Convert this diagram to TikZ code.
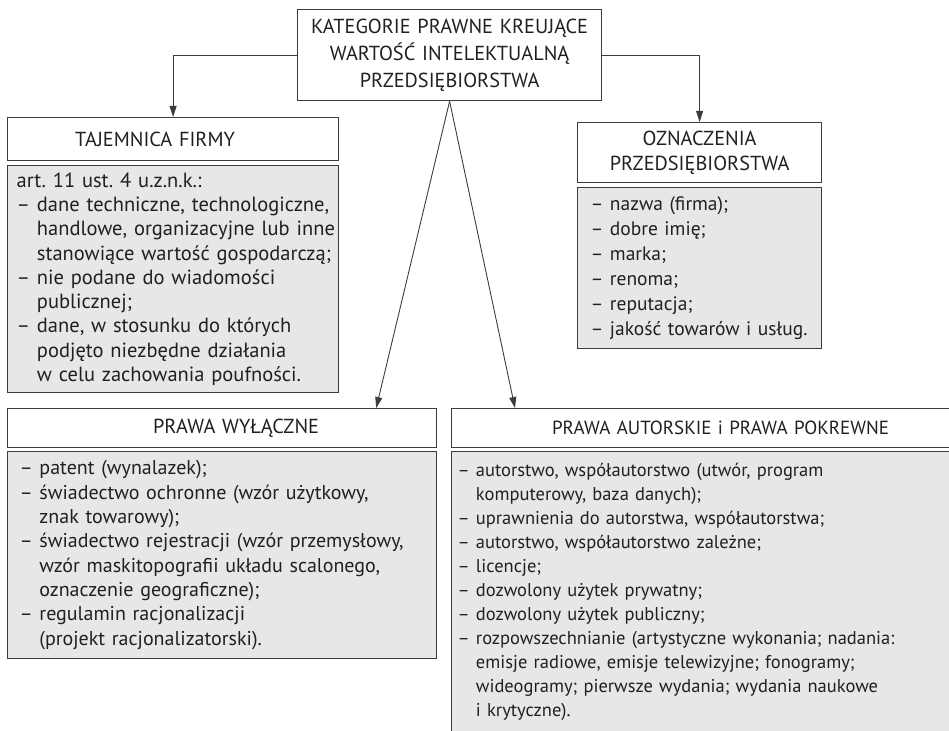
\documentclass[tikz,border=0pt]{standalone}
\usepackage{fontspec}
\setmainfont[WordSpace=0.8]{PT Sans}
\usetikzlibrary{arrows.meta}
\definecolor{boxgray}{HTML}{E6E7E8}
\definecolor{lin}{HTML}{3C3C3C}
\definecolor{ink}{HTML}{231F20}
\newcommand\wiersz[1]{\mbox{#1}}
\newcommand\wc{\phantom{–\ }}
\frenchspacing

\begin{document}
\begin{tikzpicture}[x=1pt,y=-1pt,
    head/.style={draw=lin,line width=1.2pt,fill=white,anchor=north west,align=center,inner sep=0pt,text=ink,font=\fontsize{20.3}{25}\selectfont},
    body/.style={draw=lin,line width=1.2pt,fill=boxgray,anchor=north west,align=left,inner ysep=0pt,text=ink,font=\fontsize{20}{24.3}\selectfont},
    arr/.style={draw=lin,line width=0.9pt,-{Triangle[length=11pt,width=7pt]}}]
    \useasboundingbox (0,0) rectangle (949,730);
    \clip (0,0) rectangle (949,730);
    \node[head,text width=304pt,minimum height=91pt,font=\fontsize{20.3}{27}\selectfont] (top) at (297,9)
        {KATEGORIE PRAWNE KREUJĄCE\\WARTOŚĆ INTELEKTUALNĄ\\PRZEDSIĘBIORSTWA};
    \node[head,text width=331pt,minimum height=43pt] (tajH) at (7,117) {\hspace*{-36pt}TAJEMNICA FIRMY};
    \node[body,inner xsep=9pt,text width=313pt,minimum height=227pt,font=\fontsize{20.5}{24.3}\selectfont] (tajB) at (7,165) {%
        \wiersz{art. 11 ust. 4 u.z.n.k.:}\\
        \wiersz{– dane techniczne, technologiczne,}\\
        \wiersz{\wc handlowe, organizacyjne lub inne}\\
        \wiersz{\wc stanowiące wartość gospodarczą;}\\
        \wiersz{– nie podane do wiadomości}\\
        \wiersz{\wc publicznej;}\\
        \wiersz{– dane, w stosunku do których}\\
        \wiersz{\wc podjęto niezbędne działania}\\
        \wiersz{\wc w celu zachowania poufności.}};
    \node[head,text width=244pt,minimum height=60pt] (oznH) at (577,122) {OZNACZENIA\\PRZEDSIĘBIORSTWA};
    \node[body,inner xsep=13pt,text width=218pt,minimum height=161pt,font=\fontsize{19.5}{25}\selectfont] (oznB) at (577,187) {%
        \wiersz{– nazwa (firma);}\\
        \wiersz{– dobre imię;}\\
        \wiersz{– marka;}\\
        \wiersz{– renoma;}\\
        \wiersz{– reputacja;}\\
        \wiersz{– jakość towarów i usług.}};
    \node[head,text width=429pt,minimum height=39pt] (wylH) at (7,408) {\hspace*{28pt}PRAWA WYŁĄCZNE};
    \node[body,inner xsep=12pt,text width=405pt,minimum height=207pt] (wylB) at (7,451) {%
        \wiersz{– patent (wynalazek);}\\
        \wiersz{– świadectwo ochronne (wzór użytkowy,}\\
        \wiersz{\wc znak towarowy);}\\
        \wiersz{– świadectwo rejestracji (wzór przemysłowy,}\\
        \wiersz{\wc wzór maskitopografii układu scalonego,}\\
        \wiersz{\wc oznaczenie geograficzne);}\\
        \wiersz{– regulamin racjonalizacji}\\
        \wiersz{\wc (projekt racjonalizatorski).}};
    \node[head,text width=538pt,minimum height=39pt,font=\fontsize{19}{25}\selectfont] (autH) at (451,408) {PRAWA AUTORSKIE i PRAWA POKREWNE};
    \node[body,inner xsep=6pt,inner ysep=12pt,text width=526pt,font=\fontsize{18.5}{24}\selectfont] (autB) at (451,451) {%
        \wiersz{– autorstwo, współautorstwo (utwór, program}\\
        \wiersz{\wc komputerowy, baza danych);}\\
        \wiersz{– uprawnienia do autorstwa, współautorstwa;}\\
        \wiersz{– autorstwo, współautorstwo zależne;}\\
        \wiersz{– licencje;}\\
        \wiersz{– dozwolony użytek prywatny;}\\
        \wiersz{– dozwolony użytek publiczny;}\\
        \wiersz{– rozpowszechnianie (artystyczne wykonania; nadania:}\\
        \wiersz{\wc emisje radiowe, emisje telewizyjne; fonogramy;}\\
        \wiersz{\wc wideogramy; pierwsze wydania; wydania naukowe}\\
        \wiersz{\wc i krytyczne).}};
    \draw[arr] (top.west) -| (tajH.north);
    \draw[arr] (top.east) -| (oznH.north);
    \draw[arr] (top.south) -- ([xshift=-61pt]wylH.north east);
    \draw[arr] (top.south) -- ([xshift=64pt]autH.north west);
\end{tikzpicture}
\end{document}
